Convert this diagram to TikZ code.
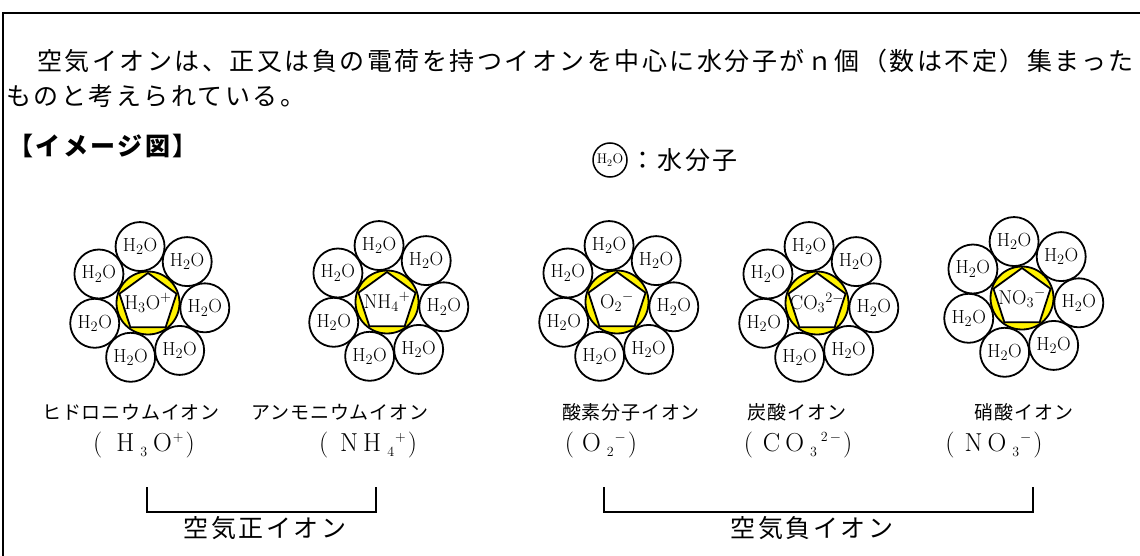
\documentclass[tikz,border=0pt]{standalone}
\usepackage{fontspec}
\usetikzlibrary{shapes.geometric}
\newfontfamily\jp{Noto Sans CJK JP}[LetterSpace=10]
\newfontfamily\jpc{Noto Sans CJK JP}[LetterSpace=4]
\newcommand\subx[1]{\raisebox{-5pt}{\fontsize{14}{14}\selectfont #1}}
\newcommand\supx[1]{\raisebox{10pt}{\fontsize{14}{14}\selectfont #1}}
\tikzset{
 water/.style={circle, draw, line width=1.8pt, fill=white, minimum size=49pt, inner sep=0pt, font=\fontsize{19}{19}\selectfont},
 ioncirc/.style={circle, draw, line width=1.8pt, fill=yellow, minimum size=63pt, inner sep=0pt},
 pent/.style={regular polygon, regular polygon sides=5, draw, line width=1.8pt, fill=white, minimum size=60pt, inner sep=0pt},
 ionlab/.style={font=\fontsize{20}{20}\selectfont, inner sep=0pt},
 body/.style={font=\jp\fontsize{25}{25}\selectfont, anchor=west, inner sep=0pt},
 caption/.style={font=\jpc\fontsize{19}{19}\selectfont, inner sep=0pt},
 formula/.style={font=\fontsize{26}{26}\selectfont, inner sep=0pt},
 frameline/.style={line width=2pt},
 brk/.style={line width=1.8pt},
}
\newcommand\cluster[4]{%
 \foreach \k in {0,...,6}{\node[water] (#1w\k) at ({#2+57*cos(262+\k*51.43)},{#3+57*sin(262+\k*51.43)}) {H$_2$O};}
 \node[ioncirc] (#1c) at (#2,#3) {};
 \node[pent] (#1p) at (#1c.center) {};
 \node[ionlab] (#1l) at (#1c.center) {#4};
}
\begin{document}
\begin{tikzpicture}[x=1pt,y=-1pt]
\useasboundingbox (0,0) rectangle (1140,556);
\clip (0,0) rectangle (1140,556);
\draw[frameline] (1160,13) -- (3,13) -- (3,580);
\node[body] (t1) at (37,61) {空気イオンは、正又は負の電荷を持つイオンを中心に水分子がｎ個（数は不定）集まった};
\node[body] (t2) at (6,96) {ものと考えられている。};
\node[body, font=\jp\bfseries\fontsize{25}{25}\selectfont] (title) at (8,146) {【イメージ図】};
\node[water, minimum size=34pt, line width=1.5pt, font=\fontsize{14}{14}\selectfont] (leg) at (610,160) {H$_2$O};
\node[body] (legt) at (630,160) {：水分子};
\cluster{a}{148}{303}{H$_3$O$^+$}
\cluster{b}{387}{302}{NH$_4{}^+$}
\cluster{c}{617}{302}{O$_2{}^-$}
\cluster{d}{817}{303}{CO$_3{}^{2-}$}
\cluster{e}{1022}{298}{NO$_3{}^-$}
\node[caption] (c1) at (131,412) {ヒドロニウムイオン};
\node[caption] (c2) at (340,412) {アンモニウムイオン};
\node[caption] (c3) at (631,412) {酸素分子イオン};
\node[caption] (c4) at (797,412) {炭酸イオン};
\node[caption] (c5) at (1024,412) {硝酸イオン};
\node[formula] (f1) at (144,445) {(\kern14pt H\kern6pt\subx{3}\kern6pt O\kern1pt\supx{+}\kern2pt)};
\node[formula] (f2) at (368,445) {(\kern12pt N\kern5pt H\kern6pt\subx{4}\kern1pt\supx{+}\kern2pt)};
\node[formula] (f3) at (601,445) {(\kern8pt O\kern6pt\subx{2}\kern1pt\supx{$-$}\kern2pt)};
\node[formula] (f4) at (798,445) {(\kern10pt C\kern5pt O\kern6pt\subx{3}\kern4pt\supx{2\kern2pt$-$}\kern2pt)};
\node[formula] (f5) at (994,445) {(\kern10pt N\kern5pt O\kern6pt\subx{3}\kern1pt\supx{$-$}\kern2pt)};
\coordinate (p1) at (147,487);
\coordinate (p2) at (376,487);
\draw[brk] (p1) -- ++(0,25) -| (p2);
\node[body, anchor=center] (pl) at (265,528) {空気正イオン};
\coordinate (n1) at (604,487);
\coordinate (n2) at (1033,487);
\draw[brk] (n1) -- ++(0,25) -| (n2);
\node[body, anchor=center] (nl) at (812,528) {空気負イオン};
\end{tikzpicture}
\end{document}
